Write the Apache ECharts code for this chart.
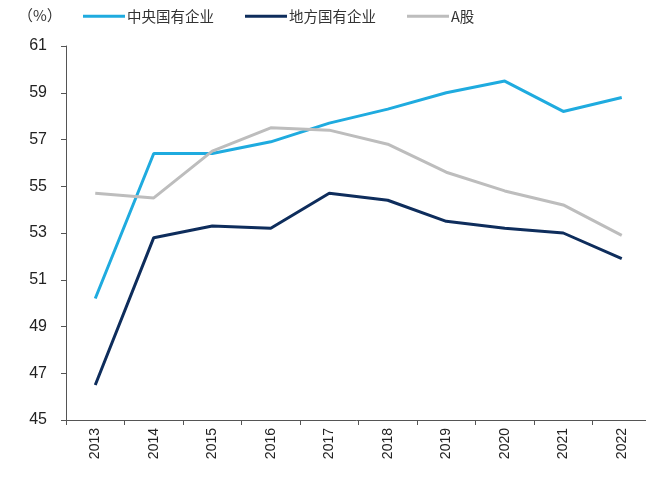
<!DOCTYPE html>
<html>
<head>
<meta charset="utf-8">
<script src="https://cdn.jsdelivr.net/npm/echarts@6/dist/echarts.min.js"></script>
<style>
html,body{margin:0;padding:0;background:#fff;}
#c{width:646px;height:479px;}
</style>
</head>
<body>
<div id="c"></div>
<script>
const categories = ['2013','2014','2015','2016','2017','2018','2019','2020','2021','2022'];
const central = [50.2, 56.4, 56.4, 56.9, 57.7, 58.3, 59.0, 59.5, 58.2, 58.8];
const local = [46.5, 52.8, 53.3, 53.2, 54.7, 54.4, 53.5, 53.2, 53.0, 51.9];
const aShare = [54.7, 54.5, 56.5, 57.5, 57.4, 56.8, 55.6, 54.8, 54.2, 52.9];
const seriesNames = ['中央国有企业', '地方国有企业', 'A股'];
const unitLabel = '（%）';

const chart = echarts.init(document.getElementById('c'));
const font = '"Liberation Sans", Arial, sans-serif';
const cjk = '"Noto Sans CJK SC", sans-serif';
chart.setOption({
  animation: false,
  backgroundColor: '#fff',
  graphic: [{
    type: 'text', left: 18, top: 8,
    style: { text: unitLabel, font: '15px ' + cjk, fill: '#333' }
  }],
  legend: {
    top: 9, left: 83, padding: 0,
    itemWidth: 42, itemHeight: 3, itemGap: 31,
    icon: 'rect',
    textStyle: { fontFamily: cjk, fontSize: 14.5, color: '#333', padding: [0,0,0,-3] },
    data: seriesNames
  },
  grid: { left: 66, top: 46, width: 585, bottom: 59, containLabel: false, outerBoundsMode: 'none' },
  xAxis: {
    type: 'category',
    data: categories,
    boundaryGap: true,
    axisLine: { lineStyle: { color: '#555', width: 1 } },
    axisTick: { show: true, length: 5, inside: false, lineStyle: { color: '#555' } },
    axisLabel: { rotate: 90, fontFamily: font, fontSize: 14, color: '#222', margin: 8 }
  },
  yAxis: {
    type: 'value', min: 45, max: 61, interval: 2,
    splitLine: { show: false },
    axisLine: { show: true, lineStyle: { color: '#555', width: 1 } },
    axisTick: { show: true, length: 5, lineStyle: { color: '#555' } },
    axisLabel: { fontFamily: font, fontSize: 16, color: '#222', margin: 19 }
  },
  series: [
    { name: seriesNames[0], type: 'line', data: central, symbol: 'none',
      lineStyle: { color: '#1FABDF', width: 3 }, itemStyle: { color: '#1FABDF' } },
    { name: seriesNames[1], type: 'line', data: local, symbol: 'none',
      lineStyle: { color: '#0E2D5C', width: 3 }, itemStyle: { color: '#0E2D5C' } },
    { name: seriesNames[2], type: 'line', data: aShare, symbol: 'none',
      lineStyle: { color: '#BDBDBD', width: 3 }, itemStyle: { color: '#BDBDBD' } }
  ]
});
</script>
</body>
</html>
